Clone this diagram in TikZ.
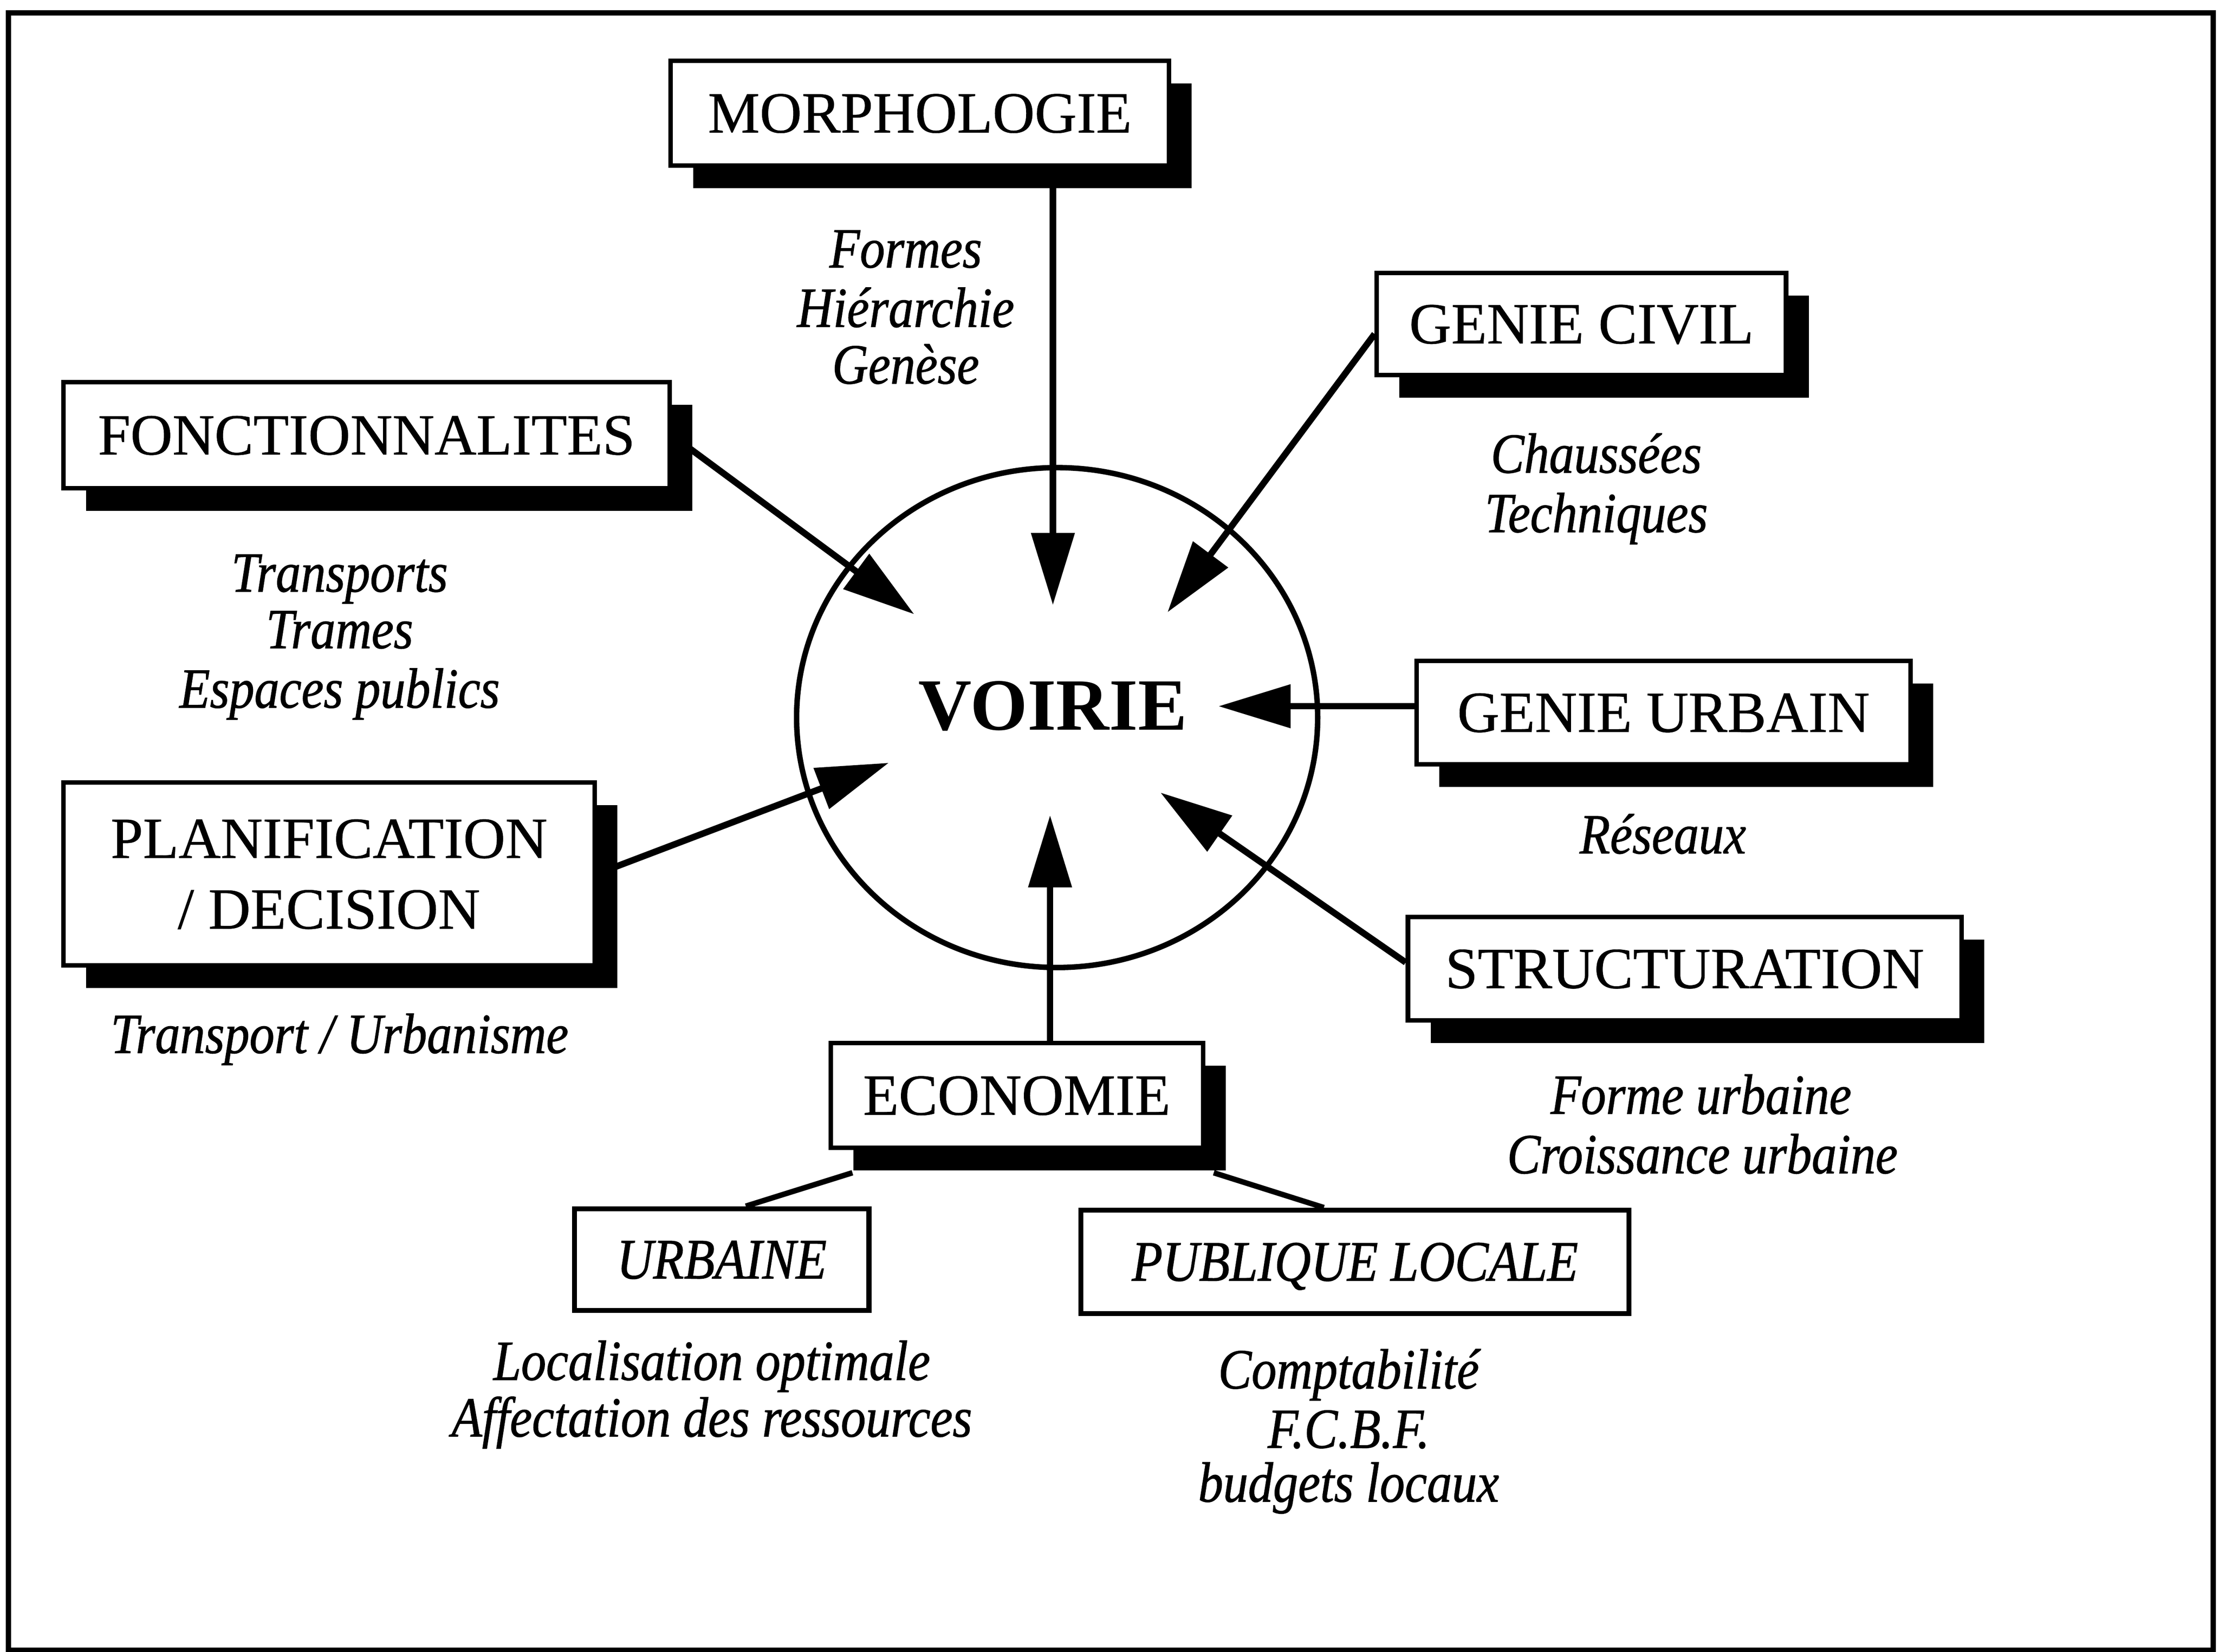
\documentclass[tikz,border=0pt]{standalone}
\usepackage{fontspec}
\setmainfont{Liberation Serif}[UprightFeatures={FakeBold=0.6},ItalicFeatures={FakeStretch=0.88,FakeBold=1.0}]
\usetikzlibrary{arrows.meta,shapes.geometric,shadows}
\begin{document}
\begin{tikzpicture}[x=0.01cm,y=-0.01cm,
  box/.style={draw, line width=0.9pt, fill=white, inner sep=0pt, text depth=0pt,
    font=\fontsize{11.7}{14.2}\selectfont,
    drop shadow={shadow xshift=0.16cm, shadow yshift=-0.16cm, opacity=1, fill=black}},
  plainbox/.style={draw, line width=1pt, fill=white, inner sep=0pt, text depth=0pt,
    font=\fontsize{11.5}{13}\selectfont\itshape},
  lab/.style={anchor=base, inner sep=0pt, font=\fontsize{11.4}{11.7}\selectfont\itshape},
  arr/.style={line width=1.3pt, -{Triangle[length=14.5pt,width=8.5pt]}},
  link/.style={line width=1.1pt}]
\useasboundingbox (0,0) rectangle (1568,1167);
\draw[line width=1.05pt] (6,9) rectangle (1564,1166);

% central circle
\node[draw, ellipse, line width=1.1pt, minimum width=3.68cm, minimum height=3.53cm, inner sep=0pt] (voirie) at (747,507) {};
\node[inner sep=0pt, font=\fontsize{14.8}{16}\selectfont\bfseries] (voirietxt) at (744,499) {VOIRIE};

% boxes
\node[box, minimum width=3.52cm, minimum height=0.74cm] (morph) at (650,80) {MORPHOLOGIE};
\node[box, minimum width=2.89cm, minimum height=0.72cm] (gcivil) at (1117.5,229) {GENIE CIVIL};
\node[box, minimum width=4.28cm, minimum height=0.75cm] (fonct) at (259,307.5) {FONCTIONNALITES};
\node[box, minimum width=3.49cm, minimum height=0.73cm] (gurb) at (1175.5,503.5) {GENIE URBAIN};
\node[box, minimum width=3.75cm, minimum height=1.29cm, align=center] (planif) at (232.5,617.5) {PLANIFICATION\\/ DECISION};
\node[box, minimum width=3.91cm, minimum height=0.73cm] (struct) at (1190.5,684.5) {STRUCTURATION};
\node[box, minimum width=2.63cm, minimum height=0.74cm] (econ) at (718.5,774) {ECONOMIE};
\node[plainbox, minimum width=2.08cm, minimum height=0.72cm] (urb) at (510,890) {URBAINE};
\node[plainbox, minimum width=3.87cm, minimum height=0.73cm] (pub) at (957.5,891.5) {PUBLIQUE LOCALE};

% italic labels
\node[lab] (m1) at (640,189) {Formes};
\node[lab] (m2) at (640,231) {Hiérarchie};
\node[lab] (m3) at (640,271) {Genèse};
\node[lab] (c1) at (1128,334) {Chaussées};
\node[lab] (c2) at (1128,376) {Techniques};
\node[lab] (f1) at (240,418) {Transports};
\node[lab] (f2) at (240,458) {Trames};
\node[lab] (f3) at (240,500) {Espaces publics};
\node[lab] (g1) at (1175,603) {Réseaux};
\node[lab] (p1) at (240,744) {Transport / Urbanisme};
\node[lab] (s1) at (1202,787) {Forme urbaine};
\node[lab] (s2) at (1203,829) {Croissance urbaine};
\node[lab] (u1) at (503,975) {Localisation optimale};
\node[lab] (u2) at (503,1015) {Affectation des ressources};
\node[lab] (b1) at (953,981) {Comptabilité};
\node[lab] (b2) at (953,1023) {F.C.B.F.};
\node[lab] (b3) at (953,1061) {budgets locaux};

% arrow tips
\coordinate (tM) at (744,427.5);
\coordinate (tF) at (646,434);
\coordinate (tGC) at (825,432.6);
\coordinate (tGU) at (861,499);
\coordinate (tS) at (820,560);
\coordinate (tE) at (742,576);
\coordinate (tP) at (628,539);

\draw[arr] (morph.south -| tM) -- (tM);
\draw[arr] (fonct.east) -- (tF);
\draw[arr] ([yshift=-0.07cm]gcivil.west) -- (tGC);
\draw[arr] (gurb.west |- tGU) -- (tGU);
\draw[arr] ([yshift=0.045cm]struct.west) -- (tS);
\draw[arr] (econ.north -| tE) -- (tE);
\draw[arr] (planif.east) -- (tP);

\draw[link] ([xshift=0.17cm,yshift=-0.16cm]econ.south west) -- ([xshift=0.17cm]urb.north);
\draw[link] ([xshift=0.06cm,yshift=-0.16cm]econ.south east) -- ([xshift=-0.22cm]pub.north);
\end{tikzpicture}
\end{document}
